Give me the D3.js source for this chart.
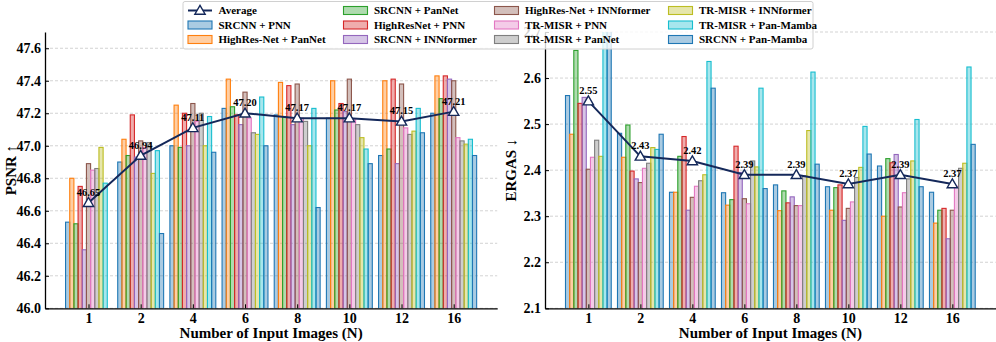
<!DOCTYPE html>
<html><head><meta charset="utf-8">
<script src="https://cdn.jsdelivr.net/npm/d3@7/dist/d3.min.js"></script>
<style>
body{margin:0;background:#fff}
text{font-family:"Liberation Serif","Times New Roman",serif;font-weight:bold;fill:#000}
</style>
</head><body>
<svg id="chart" width="996" height="342"></svg>
<script>
const categories = ["1","2","4","6","8","10","12","16"];
const seriesNames = ["SRCNN + PNN","HighRes-Net + PanNet","SRCNN + PanNet","HighResNet + PNN",
  "SRCNN + INNformer","HighRes-Net + INNformer","TR-MISR + PNN","TR-MISR + PanNet",
  "TR-MISR + INNformer","TR-MISR + Pan-Mamba","SRCNN + Pan-Mamba"];
const seriesColors = ["#1f77b4","#ff7f0e","#2ca02c","#d62728","#9467bd","#8c564b",
  "#e377c2","#7f7f7f","#bcbd22","#17becf","#1f77b4"];

// PSNR values, one array per series (N = 1,2,4,6,8,10,12,16)
const psnrSrcnnPnn      = [46.53,46.90,47.00,47.23,47.19,47.17,46.94,47.20];
const psnrHrnPanNet     = [46.80,47.04,47.25,47.41,47.39,47.40,47.40,47.43];
const psnrSrcnnPanNet   = [46.52,46.94,46.99,47.24,47.18,47.22,46.98,47.29];
const psnrHrnPnn        = [46.75,47.19,47.20,47.19,47.37,47.26,47.41,47.43];
const psnrSrcnnInn      = [46.36,46.93,47.00,47.13,47.13,47.21,46.89,47.41];
const psnrHrnInn        = [46.89,47.03,47.26,47.33,47.38,47.41,47.38,47.40];
const psnrTrPnn         = [46.85,46.99,47.15,47.17,47.17,47.16,47.11,47.05];
const psnrTrPanNet      = [46.86,47.02,47.20,47.08,47.15,47.13,47.07,47.03];
const psnrTrInn         = [46.99,46.83,47.00,47.07,47.00,47.05,47.09,47.01];
const psnrTrPanMamba    = [46.77,46.97,47.18,47.30,47.23,46.98,47.23,47.04];
const psnrSrcnnPanMamba = [45.83,46.46,46.96,47.00,46.62,46.89,47.08,46.94];
const psnrAverage       = [46.65,46.94,47.11,47.20,47.17,47.17,47.15,47.21];

// ERGAS values
const ergasSrcnnPnn      = [2.562,2.480,2.352,2.351,2.368,2.364,2.409,2.352];
const ergasHrnPanNet     = [2.478,2.428,2.352,2.324,2.312,2.313,2.300,2.285];
const ergasSrcnnPanNet   = [2.660,2.498,2.430,2.336,2.355,2.362,2.425,2.313];
const ergasHrnPnn        = [2.545,2.398,2.473,2.452,2.329,2.368,2.416,2.317];
const ergasSrcnnInn      = [2.558,2.381,2.313,2.395,2.342,2.291,2.434,2.251];
const ergasHrnInn        = [2.402,2.373,2.341,2.338,2.323,2.317,2.320,2.313];
const ergasTrPnn         = [2.428,2.404,2.365,2.327,2.323,2.331,2.351,2.365];
const ergasTrPanNet      = [2.465,2.415,2.377,2.420,2.388,2.384,2.381,2.404];
const ergasTrInn         = [2.430,2.449,2.390,2.407,2.486,2.406,2.420,2.415];
const ergasTrPanMamba    = [2.780,2.445,2.636,2.578,2.613,2.495,2.510,2.624];
const ergasSrcnnPanMamba = [2.740,2.478,2.578,2.360,2.413,2.435,2.364,2.456];
const ergasAverage       = [2.55,2.43,2.42,2.39,2.39,2.37,2.39,2.37];

const psnrTicks  = [46.0,46.2,46.4,46.6,46.8,47.0,47.2,47.4,47.6];
const ergasTicks = [2.1,2.2,2.3,2.4,2.5,2.6,2.7];

const psnrSeries = [psnrSrcnnPnn,psnrHrnPanNet,psnrSrcnnPanNet,psnrHrnPnn,psnrSrcnnInn,psnrHrnInn,
  psnrTrPnn,psnrTrPanNet,psnrTrInn,psnrTrPanMamba,psnrSrcnnPanMamba];
const ergasSeries = [ergasSrcnnPnn,ergasHrnPanNet,ergasSrcnnPanNet,ergasHrnPnn,ergasSrcnnInn,ergasHrnInn,
  ergasTrPnn,ergasTrPanNet,ergasTrInn,ergasTrPanMamba,ergasSrcnnPanMamba];

const svg = d3.select("#chart");
const lineColor = "#14285a";
const barW = 0.08;
const nS = seriesNames.length;

function panel(opt){
  const {id, left, right, top, bottom, yDomain, ticks, series, avg, ylabel, labelX, fmt} = opt;
  const x = d3.scaleLinear().domain([-0.834, 7.834]).range([left, right]);
  const y = d3.scaleLinear().domain(yDomain).range([bottom, top]);
  const g = svg.append("g");
  svg.append("clipPath").attr("id", "clip"+id).append("rect")
    .attr("x", left).attr("y", top).attr("width", right-left).attr("height", bottom-top);

  // grid
  g.append("g").selectAll("line").data(ticks).join("line")
    .attr("x1", left).attr("x2", right)
    .attr("y1", d => y(d)).attr("y2", d => y(d))
    .attr("stroke", "#c8c8c8").attr("stroke-width", 0.8).attr("stroke-dasharray", "3,2");

  // bars
  const bars = g.append("g").attr("clip-path", `url(#clip${id})`);
  series.forEach((vals, j) => {
    const col = seriesColors[j];
    bars.append("g").selectAll("rect").data(vals).join("rect")
      .attr("x", (d,i) => x(i + (j - (nS-1)/2) * barW - barW/2))
      .attr("width", x(barW) - x(0))
      .attr("y", d => y(Math.max(d, yDomain[0])))
      .attr("height", d => Math.max(0, bottom - y(Math.max(d, yDomain[0]))) + 2)
      .attr("fill", col).attr("fill-opacity", 0.38)
      .attr("stroke", col).attr("stroke-width", 1.1)
      .style("display", d => d <= yDomain[0] ? "none" : null);
  });

  // axes
  const xAxis = d3.axisBottom(x).tickValues(d3.range(categories.length))
    .tickFormat(i => categories[i]).tickSizeInner(-4).tickSizeOuter(0).tickPadding(4);
  const gx = g.append("g").attr("transform", `translate(0,${bottom})`).call(xAxis);
  gx.select(".domain").attr("stroke", "#000").attr("stroke-width", 1.3);
  gx.selectAll(".tick line").attr("stroke", "#000");
  gx.selectAll("text").style("font-size", "14px").attr("dy", "0.8em");

  const yAxis = d3.axisLeft(y).tickValues(ticks).tickFormat(fmt)
    .tickSizeInner(-4).tickSizeOuter(0).tickPadding(4);
  const gy = g.append("g").attr("transform", `translate(${left},0)`).call(yAxis);
  gy.select(".domain").attr("stroke", "#000").attr("stroke-width", 1.3);
  gy.selectAll(".tick line").attr("stroke", "#000");
  gy.selectAll("text").style("font-size", "14px");

  // average line
  const line = d3.line().x((d,i) => x(i)).y(d => y(d));
  g.append("path").datum(avg).attr("d", line)
    .attr("fill", "none").attr("stroke", lineColor).attr("stroke-width", 2);
  const tri = d3.symbol().type(d3.symbolTriangle).size(46);
  g.append("g").selectAll("path").data(avg).join("path")
    .attr("d", tri).attr("transform", (d,i) => `translate(${x(i)},${y(d)+0.8})`)
    .attr("fill", "#fff").attr("stroke", lineColor).attr("stroke-width", 1.4);
  g.append("g").selectAll("text").data(avg).join("text")
    .attr("x", (d,i) => x(i)).attr("y", d => y(d) - 7)
    .attr("text-anchor", "middle").style("font-size", "10.5px")
    .text(d => d.toFixed(2));

  // labels
  g.append("text").attr("transform", `translate(${labelX},${(top+bottom)/2}) rotate(-90)`)
    .attr("text-anchor", "middle").attr("dy", "0.35em").style("font-size", "15px").text(ylabel);
  g.append("text").attr("x", (left+right)/2).attr("y", 333).attr("dy", "0.35em")
    .attr("text-anchor", "middle").style("font-size", "15px").text("Number of Input Images (N)");
}

panel({id:"L", left:45, right:497.2, top:32, bottom:308.3, yDomain:[46.0,47.7], ticks:psnrTicks,
  series:psnrSeries, avg:psnrAverage, ylabel:"PSNR ↑", labelX:11, fmt:d3.format(".1f")});
panel({id:"R", left:545, right:995.7, top:32, bottom:308.3, yDomain:[2.1,2.7], ticks:ergasTicks,
  series:ergasSeries, avg:ergasAverage, ylabel:"ERGAS ↓", labelX:511, fmt:d3.format(".1f")});

// legend
const leg = svg.append("g");
leg.append("rect").attr("x", 183).attr("y", 1.5).attr("width", 630).attr("height", 47.5)
  .attr("rx", 2).attr("fill", "#fff").attr("fill-opacity", 0.8)
  .attr("stroke", "#d0d0d0").attr("stroke-width", 1);
const legendItems = [{name:"Average", avg:true}].concat(seriesNames.map((n,j) => ({name:n, j})));
const colX = [188, 343.5, 494.5, 668.5];
const rowY = [10.5, 25, 39.5];
legendItems.forEach((it, k) => {
  const c = Math.floor(k / 3), r = k % 3;
  const px = colX[c], py = rowY[r];
  if (it.avg) {
    leg.append("line").attr("x1", px).attr("x2", px+24).attr("y1", py).attr("y2", py)
      .attr("stroke", lineColor).attr("stroke-width", 2);
    leg.append("path").attr("d", d3.symbol().type(d3.symbolTriangle).size(46)())
      .attr("transform", `translate(${px+12},${py+0.8})`)
      .attr("fill", "#fff").attr("stroke", lineColor).attr("stroke-width", 1.4);
  } else {
    const col = seriesColors[it.j];
    leg.append("rect").attr("x", px).attr("y", py-4).attr("width", 24).attr("height", 8)
      .attr("fill", col).attr("fill-opacity", 0.38).attr("stroke", col).attr("stroke-width", 1.1);
  }
  leg.append("text").attr("x", px+30.5).attr("y", py).attr("dy", "0.35em")
    .style("font-size", "11px").text(it.name);
});
</script>
</body></html>
